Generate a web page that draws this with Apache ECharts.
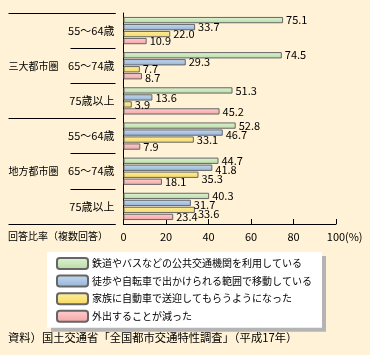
<!DOCTYPE html>
<html><head><meta charset="utf-8">
<script src="https://cdn.jsdelivr.net/npm/echarts@6/dist/echarts.min.js"></script>
<style>html,body{margin:0;padding:0;background:#FFF2D6;}#c{width:370px;height:355px;}</style>
</head><body><div id="c"></div>
<script>
const ageLabels = ['55～64歳','65～74歳','75歳以上','55～64歳','65～74歳','75歳以上'];
const regionLabels = ['三大都市圏','地方都市圏'];
const seriesNames = ['鉄道やバスなどの公共交通機関を利用している','徒歩や自転車で出かけられる範囲で移動している','家族に自動車で送迎してもらうようになった','外出することが減った'];
const publicTransit = [75.1, 74.5, 51.3, 52.8, 44.7, 40.3];
const walkBike = [33.7, 29.3, 13.6, 46.7, 41.8, 31.7];
const familyCar = [22.0, 7.7, 3.9, 33.1, 35.3, 33.6];
const goOutLess = [10.9, 8.7, 45.2, 7.9, 18.1, 23.4];
const xTicks = [0, 20, 40, 60, 80, 100];

const FONT = '"Noto Sans CJK JP", "Noto Sans", sans-serif';
function grad(a, b) {
  return new echarts.graphic.LinearGradient(0, 0, 0, 1, [{offset: 0, color: a}, {offset: 1, color: b}]);
}
const fills = [grad('#e0f3d6', '#b6dba4'), grad('#c6d9ee', '#93b3d8'), grad('#fff0a0', '#f5d860'), grad('#ffd0d0', '#f4a2a2')];
const values = [publicTransit, walkBike, familyCar, goOutLess];

const BAR_W = 6.3, BAR_GAP = 0.11;
const measureCtx = document.createElement('canvas').getContext('2d');
measureCtx.font = '11px "Noto Sans CJK JP"';

// simple label collision avoidance: push a label down if it overlaps an earlier label in the same category
function labelShift(p) {
  const k = p.seriesIndex, i = p.dataIndex;
  const r = p.rect;
  const v0 = values[k][i];
  const ppu = Math.abs(r.width) / v0;
  const step = BAR_W * (1 + BAR_GAP);
  const cy0 = r.y + r.height / 2;
  const x0 = r.x;
  const boxes = [];
  for (let j = 0; j <= k; j++) {
    const v = values[j][i];
    const w = measureCtx.measureText(v.toFixed(1)).width;
    const box = {x: x0 + v * ppu + 3, y: cy0 + (j - k) * step - 4.5, w: w, h: 9, dy: 0};
    let moved = true;
    while (moved) {
      moved = false;
      for (const b of boxes) {
        if (box.x < b.x + b.w && b.x < box.x + box.w && box.y < b.y + b.h && b.y < box.y + box.h) {
          const ny = b.y + b.h;
          box.dy += ny - box.y; box.y = ny; moved = true;
        }
      }
    }
    boxes.push(box);
  }
  return {dy: boxes[k].dy};
}

const chart = echarts.init(document.getElementById('c'));
chart.setOption({
  backgroundColor: '#FFF2D6',
  animation: false,
  textStyle: {fontFamily: FONT, color: '#000'},
  title: [
    {text: '回答比率（複数回答）', left: 8, top: 231, padding: 0, textStyle: {fontSize: 10, fontWeight: 'normal', color: '#000', fontFamily: FONT}},
    {text: '資料）国土交通省「全国都市交通特性調査」（平成17年）', left: 8, top: 332, padding: 0, textStyle: {fontSize: 11.3, fontWeight: 'normal', color: '#000', fontFamily: FONT}}
  ],
  legend: {
    orient: 'vertical', left: 47, top: 252,
    padding: [5, 10, 5, 9],
    itemWidth: 31, itemHeight: 11, itemGap: 4.6,
    backgroundColor: '#fff',
    shadowColor: '#b4b4b4', shadowOffsetX: 4, shadowOffsetY: 4, shadowBlur: 0,
    itemStyle: {borderColor: '#666', borderWidth: 2},
    textStyle: {fontSize: 10, color: '#000', fontFamily: FONT, padding: [0, 0, 0, -1]},
    data: seriesNames
  },
  grid: {left: 123.5, right: 34, top: 13, bottom: 131, containLabel: false},
  xAxis: {
    type: 'value', min: xTicks[0], max: xTicks[xTicks.length - 1], interval: 20,
    splitLine: {show: false},
    axisLine: {show: true, lineStyle: {color: '#000', width: 1}},
    axisTick: {show: true, inside: true, length: 5, lineStyle: {color: '#000'}},
    axisLabel: {fontSize: 11, color: '#000', margin: 7, fontFamily: FONT},
    name: '(%)', nameLocation: 'end', nameGap: 9, nameMoveOverlap: false,
    nameTextStyle: {fontSize: 11, color: '#000', verticalAlign: 'top', padding: [7, 0, 0, 0], fontFamily: FONT}
  },
  yAxis: [
    {type: 'category', inverse: true, position: 'left', data: ageLabels.map((_, i) => i),
     axisLine: {show: true, lineStyle: {color: '#000', width: 1}},
     axisTick: {show: false}, axisLabel: {show: false}},
    {type: 'category', inverse: true, position: 'left', offset: 8, data: ageLabels,
     axisLine: {show: false},
     axisTick: {show: true, length: 45, lineStyle: {color: '#000', width: 1}},
     axisLabel: {fontSize: 11, color: '#000', margin: 1, fontFamily: FONT}},
    {type: 'category', inverse: true, position: 'left', offset: 8, data: regionLabels,
     axisLine: {show: false},
     axisTick: {show: true, length: 107, lineStyle: {color: '#000', width: 1}},
     axisLabel: {fontSize: 10, color: '#000', margin: 107, align: 'left', fontFamily: FONT}}
  ],
  series: seriesNames.map((name, k) => ({
    name: name, type: 'bar', yAxisIndex: 0,
    barWidth: BAR_W, barGap: (BAR_GAP * 100) + '%',
    itemStyle: {color: fills[k], borderColor: '#666', borderWidth: 1},
    label: {show: true, position: 'right', distance: 3, offset: [0, 1.5], fontSize: 11, color: '#000', fontFamily: FONT,
            formatter: p => p.value.toFixed(1)},
    labelLayout: labelShift,
    data: values[k]
  }))
});
</script></body></html>
